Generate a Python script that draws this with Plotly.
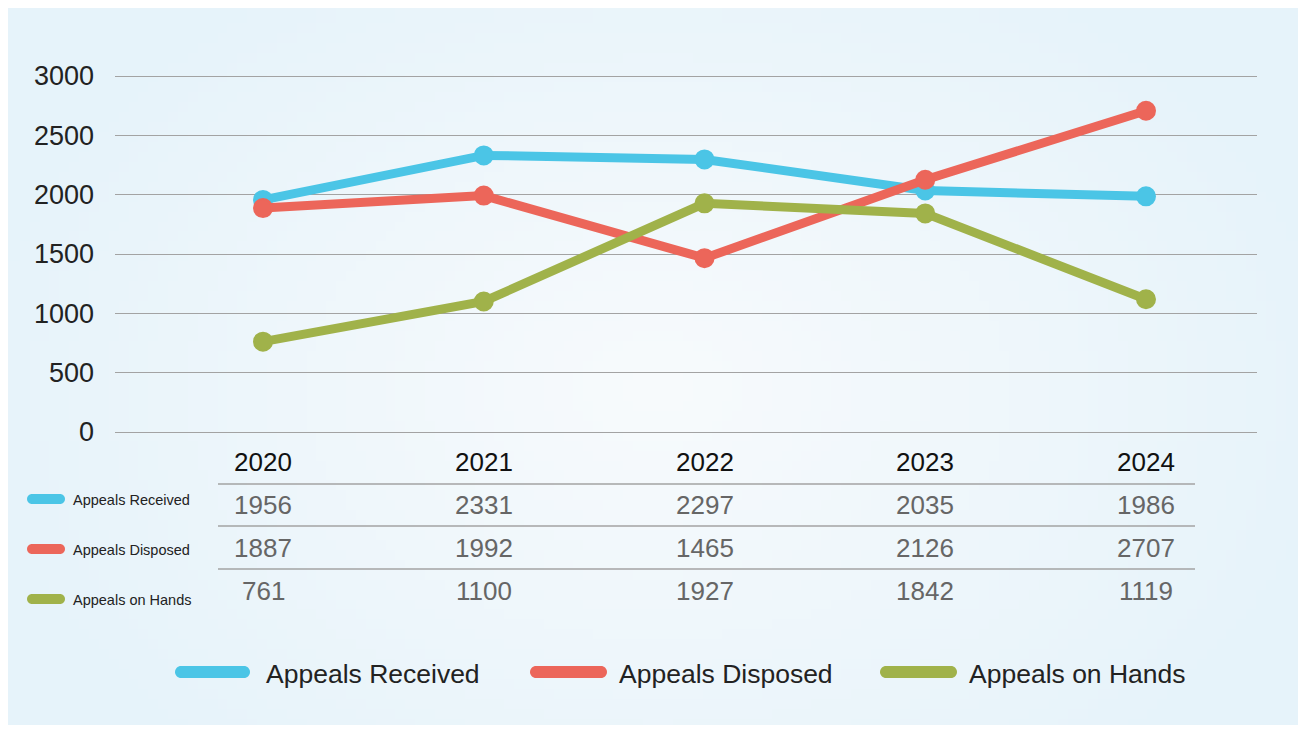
import base64, struct, zlib, math
import plotly.graph_objects as go

years = [2020, 2021, 2022, 2023, 2024]
series_names = ["Appeals Received", "Appeals Disposed", "Appeals on Hands"]
received = [1956, 2331, 2297, 2035, 1986]
disposed = [1887, 1992, 1465, 2126, 2707]
on_hands = [761, 1100, 1927, 1842, 1119]
y_ticks = [0, 500, 1000, 1500, 2000, 2500, 3000]
colors = ["#4bc5e6", "#ec665a", "#a0b24a"]

# page has an 8px body margin; the figure is sized to fit the window
OFF = 8
W, H = 1306 - 2 * OFF, 733 - 2 * OFF


def px(x):
    return (x - OFF) / W


def py(y):
    return 1 - (y - OFF) / H


def make_png(w, h):
    rows = []
    cx, cy = w * 0.5, h * 0.52
    for j in range(h):
        row = bytearray([0])
        for i in range(w):
            d = math.sqrt(((i - cx) / (w * 0.55)) ** 2 + ((j - cy) / (h * 0.7)) ** 2)
            t = min(1.0, d)
            c0 = (248, 251, 253)
            c1 = (230, 243, 250)
            row += bytes(int(c0[k] + (c1[k] - c0[k]) * t) for k in range(3))
        rows.append(bytes(row))
    raw = b"".join(rows)

    def chunk(tag, data):
        c = struct.pack(">I", len(data)) + tag + data
        return c + struct.pack(">I", zlib.crc32(tag + data) & 0xFFFFFFFF)

    png = b"\x89PNG\r\n\x1a\n"
    png += chunk(b"IHDR", struct.pack(">IIBBBBB", w, h, 8, 2, 0, 0, 0))
    png += chunk(b"IDAT", zlib.compress(raw, 9))
    png += chunk(b"IEND", b"")
    return "data:image/png;base64," + base64.b64encode(png).decode()


def pill(x0, x1, yc, h):
    r = h / 2
    k = 0.5523 * r
    pts = [
        f"M{px(x0 + r)},{py(yc - r)}",
        f"L{px(x1 - r)},{py(yc - r)}",
        f"C{px(x1 - r + k)},{py(yc - r)} {px(x1)},{py(yc - k)} {px(x1)},{py(yc)}",
        f"C{px(x1)},{py(yc + k)} {px(x1 - r + k)},{py(yc + r)} {px(x1 - r)},{py(yc + r)}",
        f"L{px(x0 + r)},{py(yc + r)}",
        f"C{px(x0 + r - k)},{py(yc + r)} {px(x0)},{py(yc + k)} {px(x0)},{py(yc)}",
        f"C{px(x0)},{py(yc - k)} {px(x0 + r - k)},{py(yc - r)} {px(x0 + r)},{py(yc - r)} Z",
    ]
    return " ".join(pts)


all_series = [received, disposed, on_hands]

fig = go.Figure()
for name, vals, col in zip(series_names, all_series, colors):
    fig.add_trace(go.Scatter(
        x=years, y=vals, name=name, mode="lines+markers",
        line=dict(color=col, width=9),
        marker=dict(size=18, color=col, line=dict(color=col, width=2)),
        showlegend=False, hoverinfo="x+y+name",
    ))

font_family = "Liberation Sans, Arial, sans-serif"

# x range so that 2020 sits at px 263 and spacing 220.75
step = 220.75
x_lo = 2020 - (263 - 115) / step
x_hi = 2024 + (1257 - 1146) / step

# y domain a bit larger than 0..3000 so edge grid lines are drawn
top_px, bot_px = 76, 432
upp = 3000 / (bot_px - top_px)
pad = 2
y_lo, y_hi = -pad * upp, 3000 + pad * upp

fig.update_layout(
    width=W, height=H,
    margin=dict(l=0, r=0, t=0, b=0),
    paper_bgcolor="white",
    plot_bgcolor="rgba(0,0,0,0)",
    font=dict(family=font_family),
    xaxis=dict(domain=[px(115), px(1257)], range=[x_lo, x_hi], showgrid=False,
               showticklabels=False, zeroline=False, showline=False, ticks="",
               automargin=False),
    yaxis=dict(domain=[py(bot_px + pad), py(top_px - pad)], range=[y_lo, y_hi], tickvals=y_ticks,
               showgrid=True, gridcolor="#a3a3a3", gridwidth=1, zeroline=False,
               tickfont=dict(size=27, color="#222222", family=font_family),
               ticklabelstandoff=20, showline=False, automargin=False),
    images=[dict(source=make_png(131, 73), xref="paper", yref="paper",
                 x=px(5), y=py(8), sizex=px(1300) - px(5), sizey=py(8) - py(733),
                 sizing="stretch", layer="below", xanchor="left", yanchor="top")],
)

shapes = []
annotations = []

# table separators
for yy in [484, 526, 569]:
    shapes.append(dict(type="line", xref="paper", yref="paper",
                       x0=px(218), x1=px(1195), y0=py(yy), y1=py(yy),
                       line=dict(color="#a3a3a3", width=1.5)))

# years row
for yr in years:
    annotations.append(dict(x=yr, xref="x", y=py(462), yref="paper", text=str(yr),
                            showarrow=False, xanchor="center", yanchor="middle",
                            font=dict(size=26, color="#111111", family=font_family)))

# values rows
row_y = [505, 548, 591]
for vals, ry in zip(all_series, row_y):
    for yr, v in zip(years, vals):
        annotations.append(dict(x=yr, xref="x", y=py(ry), yref="paper", text=str(v),
                                showarrow=False, xanchor="center", yanchor="middle",
                                font=dict(size=26, color="#666666", family=font_family)))

# left legend in table
left_y = [499, 549, 599]
for name, col, ly in zip(series_names, colors, left_y):
    shapes.append(dict(type="path", path=pill(27, 65, ly, 10), xref="paper", yref="paper",
                       fillcolor=col, line=dict(width=0)))
    annotations.append(dict(x=px(71), xref="paper", y=py(ly + 1), yref="paper", text=name,
                            showarrow=False, xanchor="left", yanchor="middle",
                            font=dict(size=14.5, color="#222222", family=font_family)))

# bottom legend
leg_x = [(175, 250, 264), (530, 607, 617), (880, 957, 967)]
for name, col, (a, b, tx) in zip(series_names, colors, leg_x):
    shapes.append(dict(type="path", path=pill(a, b, 672, 12), xref="paper", yref="paper",
                       fillcolor=col, line=dict(width=0)))
    annotations.append(dict(x=px(tx), xref="paper", y=py(674), yref="paper", text=name,
                            showarrow=False, xanchor="left", yanchor="middle",
                            font=dict(size=26.5, color="#222222", family=font_family)))

fig.update_layout(shapes=shapes, annotations=annotations)
fig.write_html("out.html")
